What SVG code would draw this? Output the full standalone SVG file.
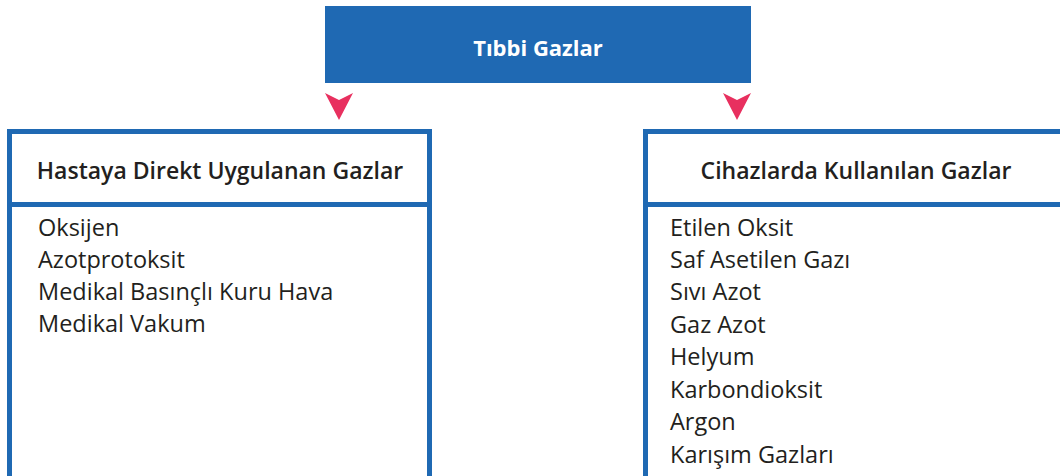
<svg xmlns="http://www.w3.org/2000/svg" width="1060" height="476" viewBox="0 0 1060 476">
<style>
.box{fill:#ffffff;stroke:#1f69b3;stroke-width:5}
.hdr{font-family:"Open Sans","Liberation Sans",sans-serif;font-weight:600;font-size:23px;fill:#231f20;text-anchor:middle}
.item{font-family:"Open Sans","Liberation Sans",sans-serif;font-size:23.5px;fill:#231f20}
.arr{fill:#e8305f}
</style>
<rect width="1060" height="476" fill="#ffffff"/>
<g id="root">
<rect x="325" y="6" width="426" height="77" fill="#1f69b3"/>
<text x="538" y="56" font-family="'Open Sans','Liberation Sans',sans-serif" font-weight="700" font-size="22" fill="#ffffff" text-anchor="middle">Tıbbi Gazlar</text>
</g>
<g id="connectors">
<path class="arr" d="M325,93 L339,100 L353,93 L339,120 Z"/>
<path class="arr" d="M723,93 L737,100 L751,93 L737,120 Z"/>
</g>
<g id="left">
<rect class="box" x="9.5" y="131.5" width="420" height="350"/>
<line x1="9.5" y1="204.5" x2="429.5" y2="204.5" stroke="#1f69b3" stroke-width="5"/>
<text class="hdr" x="220" y="179">Hastaya Direkt Uygulanan Gazlar</text>
<text class="item" x="38" y="236">Oksijen</text>
<text class="item" x="38" y="268">Azotprotoksit</text>
<text class="item" x="38" y="300">Medikal Basınçlı Kuru Hava</text>
<text class="item" x="38" y="332">Medikal Vakum</text>
</g>
<g id="right">
<rect class="box" x="645.5" y="131.5" width="430" height="350"/>
<line x1="645.5" y1="204.5" x2="1075" y2="204.5" stroke="#1f69b3" stroke-width="5"/>
<text class="hdr" x="856" y="179">Cihazlarda Kullanılan Gazlar</text>
<text class="item" x="670" y="236">Etilen Oksit</text>
<text class="item" x="670" y="268">Saf Asetilen Gazı</text>
<text class="item" x="670" y="300">Sıvı Azot</text>
<text class="item" x="670" y="333">Gaz Azot</text>
<text class="item" x="670" y="365">Helyum</text>
<text class="item" x="670" y="398">Karbondioksit</text>
<text class="item" x="670" y="430">Argon</text>
<text class="item" x="670" y="463">Karışım Gazları</text>
</g>
</svg>
